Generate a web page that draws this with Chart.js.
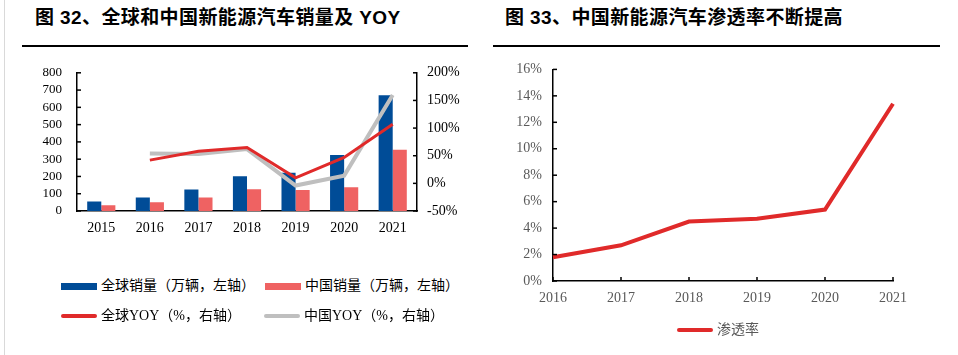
<!DOCTYPE html>
<html><head><meta charset="utf-8">
<script src="https://cdn.jsdelivr.net/npm/chart.js@4"></script>
<style>
body{margin:0;width:958px;height:355px;background:#fff;position:relative;overflow:hidden;font-family:"Liberation Serif","Noto Sans CJK SC",serif;}
.vline{position:absolute;left:4px;top:0;width:1px;height:355px;background:#d9d9d9;}
.title{position:absolute;top:5px;font-family:"Liberation Sans","Noto Sans CJK SC",sans-serif;font-weight:bold;font-size:19px;letter-spacing:0.4px;color:#000;white-space:nowrap;line-height:26px;}
.rule{position:absolute;top:45px;height:1.5px;background:#000;}
.cv{position:absolute;}
.li{position:absolute;font-size:14px;line-height:16px;white-space:nowrap;color:#000;height:16px;}
.sw{position:absolute;}
.tx{position:absolute;top:0;}
</style>
</head><body>
<div class="vline"></div>
<div class="title" style="left:35px">图 32、全球和中国新能源汽车销量及 YOY</div>
<div class="rule" style="left:22px;width:446px"></div>
<div class="title" style="left:505px">图 33、中国新能源汽车渗透率不断提高</div>
<div class="rule" style="left:493px;width:447px"></div>

<div class="cv" style="left:0;top:50px;width:480px;height:190px"><canvas id="c1"></canvas></div>
<div class="cv" style="left:480px;top:50px;width:478px;height:265px"><canvas id="c2"></canvas></div>

<div id="leg1"></div>
<div id="leg2"></div>

<script>
// ---- data ----
const years = ['2015','2016','2017','2018','2019','2020','2021'];
const globalSales = [55, 78, 124, 201, 221, 324, 670];
const chinaSales = [33, 50, 78, 126, 121, 137, 355];
const globalYoy = [null, 42, 58, 65, 10, 47, 107];
const chinaYoy = [null, 54, 53, 62, -4, 14, 160];
const penYears = ['2016','2017','2018','2019','2020','2021'];
const penetration = [1.8, 2.7, 4.5, 4.7, 5.4, 13.4];

const legendLeft = [
  {label:'全球销量（万辆，左轴）', color:'#004C97', type:'bar', x:61, y:278},
  {label:'中国销量（万辆，左轴）', color:'#EF6262', type:'bar', x:265, y:278},
  {label:'全球YOY（%，右轴）', color:'#E02A2A', type:'line', x:61, y:308},
  {label:'中国YOY（%，右轴）', color:'#BFBFBF', type:'line', x:264, y:308}
];
const legendRight = [{label:'渗透率', color:'#E02A2A', type:'line', x:677, y:322, textColor:'#595959'}];

function buildLegend(el, items){
  items.forEach(it=>{
    const d = document.createElement('div');
    d.className='li';
    d.style.left = it.x+'px'; d.style.top = it.y+'px';
    const sw = document.createElement('div');
    sw.className='sw';
    sw.style.left='0px'; sw.style.width='36px'; sw.style.background=it.color;
    if(it.type==='bar'){ sw.style.top='4.5px'; sw.style.height='7px'; }
    else { sw.style.top='6px'; sw.style.height='4px'; sw.style.borderRadius='2px'; }
    const t = document.createElement('span');
    t.className='tx'; t.style.left='40px'; t.textContent=it.label;
    if(it.textColor) t.style.color=it.textColor;
    d.appendChild(sw); d.appendChild(t);
    el.appendChild(d);
  });
}
buildLegend(document.getElementById('leg1'), legendLeft);
buildLegend(document.getElementById('leg2'), legendRight);

const inTicks = {
  id:'inTicks',
  afterDatasetsDraw(chart, args, opts){
    const ctx = chart.ctx;
    ctx.save();
    ctx.strokeStyle = '#000'; ctx.lineWidth = 1.5;
    (opts.axes||[]).forEach(a=>{
      const s = chart.scales[a.id];
      s.ticks.forEach((t,i)=>{
        const p = s.getPixelForTick(i);
        ctx.beginPath();
        if(a.side==='left'){ ctx.moveTo(s.right, p); ctx.lineTo(s.right+a.len, p); }
        else if(a.side==='right'){ ctx.moveTo(s.left, p); ctx.lineTo(s.left-a.len, p); }
        else { ctx.moveTo(p, s.top); ctx.lineTo(p, s.top-a.len); }
        ctx.stroke();
      });
    });
    ctx.restore();
  }
};

const serif = 'Liberation Serif';
const border = {display:true, color:'#000', width:1.5};

new Chart(document.getElementById('c1'), {
  data:{
    labels: years,
    datasets:[
      {type:'line', label:'全球YOY（%，右轴）', data:globalYoy, yAxisID:'y1', borderColor:'#E02A2A', borderWidth:3, pointRadius:0, tension:0, order:0},
      {type:'line', label:'中国YOY（%，右轴）', data:chinaYoy, yAxisID:'y1', borderColor:'#BFBFBF', borderWidth:4, pointRadius:0, tension:0, order:1},
      {type:'bar', label:'全球销量（万辆，左轴）', data:globalSales, yAxisID:'y', backgroundColor:'#004C97', categoryPercentage:0.58, barPercentage:1, order:2},
      {type:'bar', label:'中国销量（万辆，左轴）', data:chinaSales, yAxisID:'y', backgroundColor:'#EF6262', categoryPercentage:0.58, barPercentage:1, order:3}
    ]
  },
  options:{
    responsive:true, maintainAspectRatio:false, animation:false,
    layout:{padding:{top:9,left:0,right:0,bottom:0}},
    plugins:{legend:{display:false}, tooltip:{enabled:false},
      inTicks:{axes:[{id:'y',side:'left',len:4},{id:'y1',side:'right',len:4}]}},
    scales:{
      x:{grid:{display:false,drawTicks:false}, border:border,
         ticks:{font:{family:serif,size:14},color:'#000',padding:9},
         afterFit(s){s.height=29;}},
      y:{position:'left', min:0, max:800, grid:{display:false,drawTicks:false}, border:border,
         ticks:{stepSize:100,autoSkip:false,font:{family:serif,size:13},color:'#000',padding:15},
         afterFit(s){s.width=77;}},
      y1:{position:'right', min:-50, max:200, grid:{display:false,drawTicks:false}, border:border,
         ticks:{stepSize:50,autoSkip:false,font:{family:serif,size:14},color:'#000',padding:10,callback:v=>v+'%'},
         afterFit(s){s.width=63;}}
    }
  },
  plugins:[inTicks]
});

new Chart(document.getElementById('c2'), {
  type:'line',
  data:{
    labels: penYears,
    datasets:[
      {label:'渗透率', data:penetration, borderColor:'#E02A2A', borderWidth:4, pointRadius:0, tension:0}
    ]
  },
  options:{
    responsive:true, maintainAspectRatio:false, animation:false,
    layout:{padding:{top:17,left:0,right:65,bottom:0}},
    plugins:{legend:{display:false}, tooltip:{enabled:false},
      inTicks:{axes:[{id:'y',side:'left',len:4},{id:'x',side:'bottom',len:4}]}},
    scales:{
      x:{offset:false, grid:{display:false,drawTicks:false}, border:border,
         ticks:{font:{family:serif,size:14},color:'#595959',padding:9},
         afterFit(s){s.height=34;}},
      y:{min:0, max:16, grid:{display:false,drawTicks:false}, border:border,
         ticks:{stepSize:2,autoSkip:false,font:{family:serif,size:14},color:'#595959',padding:11,callback:v=>v+'%'},
         afterFit(s){s.width=73;}}
    }
  },
  plugins:[inTicks]
});
</script>
</body></html>
